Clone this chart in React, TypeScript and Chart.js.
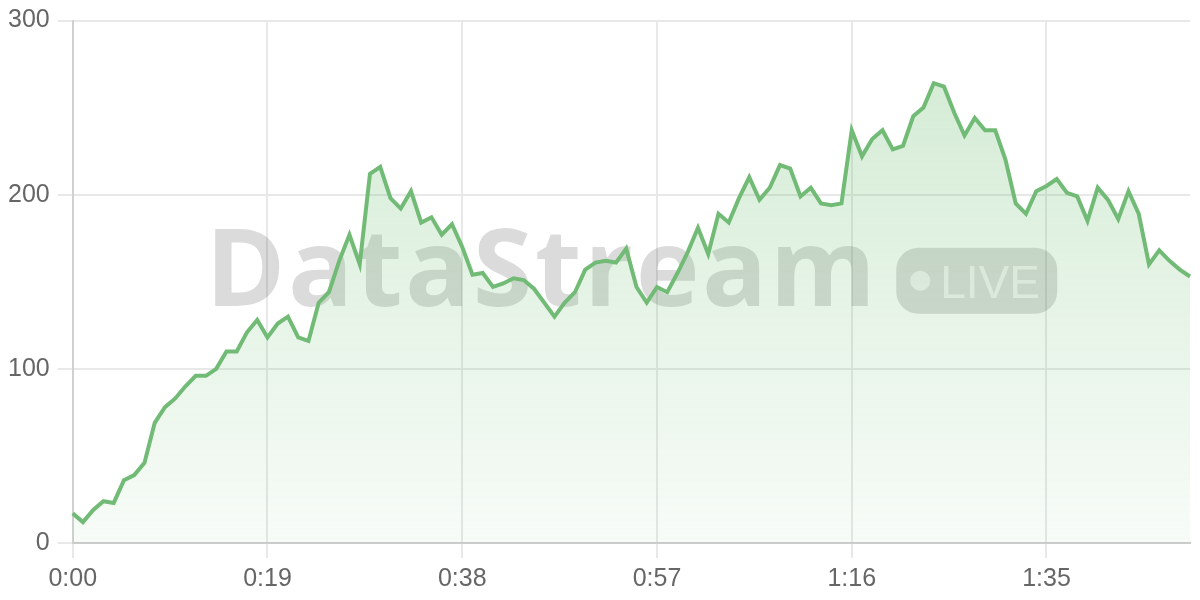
import React, { useEffect, useRef } from "react";
import { Chart, registerables } from "chart.js";

Chart.register(...registerables);

// Values per second (0:00 .. 1:49)
const values: number[] = [
  17, 12, 19, 24, 23, 36, 39, 46, 69, 78,
  83, 90, 96, 96, 100, 110, 110, 121, 128, 118,
  126, 130, 118, 116, 138, 144, 162, 177, 160, 212,
  216, 198, 192, 202, 184, 187, 177, 183, 170, 154,
  155, 147, 149, 152, 151, 146, 138, 130, 138, 144,
  157, 161, 162, 161, 169, 147, 138, 147, 144, 155,
  167, 181, 166, 189, 184, 198, 210, 197, 204, 217,
  215, 199, 204, 195, 194, 195, 237, 222, 232, 237,
  226, 228, 245, 250, 264, 262, 247, 234, 244, 237,
  237, 220, 195, 189, 202, 205, 209, 201, 199, 185,
  204, 197, 186, 202, 189, 160, 168, 162, 157, 153,
];

const fmt = (s: number) => `${Math.floor(s / 60)}:${String(s % 60).padStart(2, "0")}`;
const labels: string[] = values.map((_, i) => fmt(i));
const xTickStep = 19;
const yTicks: number[] = [0, 100, 200, 300];

const watermarkText = "DataStream";
const badgeText = "LIVE";

const watermarkPlugin = {
  id: "watermark",
  beforeDatasetsDraw(chart: any) {
    const { ctx, chartArea } = chart;
    const cx = (chartArea.left + chartArea.right) / 2;
    const cy = (chartArea.top + chartArea.bottom) / 2;
    ctx.save();
    ctx.font = "bold 108px 'Open Sans', 'Liberation Sans', sans-serif";
    (ctx as any).letterSpacing = "2.5px";
    const tw = ctx.measureText(watermarkText).width;
    const gap = 18;
    const bw = 161;
    const bh = 66;
    const total = tw + gap + bw;
    const x0 = cx - total / 2;
    ctx.fillStyle = "rgba(0,0,0,0.14)";
    ctx.textBaseline = "alphabetic";
    ctx.textAlign = "left";
    ctx.fillText(watermarkText, x0, cy + 24);
    (ctx as any).letterSpacing = "0px";
    const bx = x0 + tw + gap;
    const by = cy - 34;
    ctx.beginPath();
    ctx.roundRect(bx, by, bw, bh, 22);
    ctx.fill();
    ctx.fillStyle = "rgba(255,255,255,0.65)";
    ctx.beginPath();
    ctx.arc(bx + 24, by + bh / 2, 10, 0, Math.PI * 2);
    ctx.fill();
    ctx.font = "46px 'Liberation Sans', Arial, sans-serif";
    ctx.fillText(badgeText, bx + 44, cy + 16);
    ctx.restore();
  },
};

export default function App() {
  const ref = useRef<HTMLCanvasElement | null>(null);
  useEffect(() => {
    if (!ref.current) return;
    const family = "'Liberation Sans', Arial, sans-serif";
    const chart = new Chart(ref.current, {
      type: "line",
      data: {
        labels,
        datasets: [
          {
            data: values,
            borderColor: "#72bb76",
            borderWidth: 4,
            pointRadius: 0,
            tension: 0,
            fill: "origin",
            backgroundColor: (c: any) => {
              const area = c.chart.chartArea;
              if (!area) return "rgba(102,187,106,0.15)";
              const g = c.chart.ctx.createLinearGradient(0, area.top, 0, area.bottom);
              g.addColorStop(0, "rgba(102,187,106,0.3)");
              g.addColorStop(1, "rgba(102,187,106,0.05)");
              return g;
            },
          },
        ],
      },
      options: {
        responsive: true,
        maintainAspectRatio: false,
        animation: false,
        layout: { padding: { right: 10, top: 0 } },
        plugins: { legend: { display: false }, tooltip: { enabled: false } },
        scales: {
          x: {
            grid: { color: "#e8e8e8", lineWidth: 2, tickLength: 15 },
            border: { color: "#cccccc", width: 2 },
            ticks: {
              autoSkip: false,
              maxRotation: 0,
              font: { family, size: 25 },
              color: "#666",
              padding: 6,
              callback: (_v: any, i: number) => (i % xTickStep === 0 ? labels[i] : null),
            },
          },
          y: {
            min: yTicks[0],
            max: yTicks[yTicks.length - 1],
            grid: { color: "#e8e8e8", lineWidth: 2, tickLength: 15 },
            border: { color: "#d0d0d0", width: 2 },
            afterBuildTicks: (axis: any) => {
              axis.ticks = yTicks.map((v) => ({ value: v }));
            },
            ticks: { font: { family, size: 25, lineHeight: 1 }, color: "#666", padding: 8 },
          },
        },
      },
      plugins: [watermarkPlugin],
    });
    return () => chart.destroy();
  }, []);
  return (
    <div style={{ position: "fixed", left: 0, top: 0, width: "100vw", height: "100vh" }}>
      <canvas ref={ref} />
    </div>
  );
}
